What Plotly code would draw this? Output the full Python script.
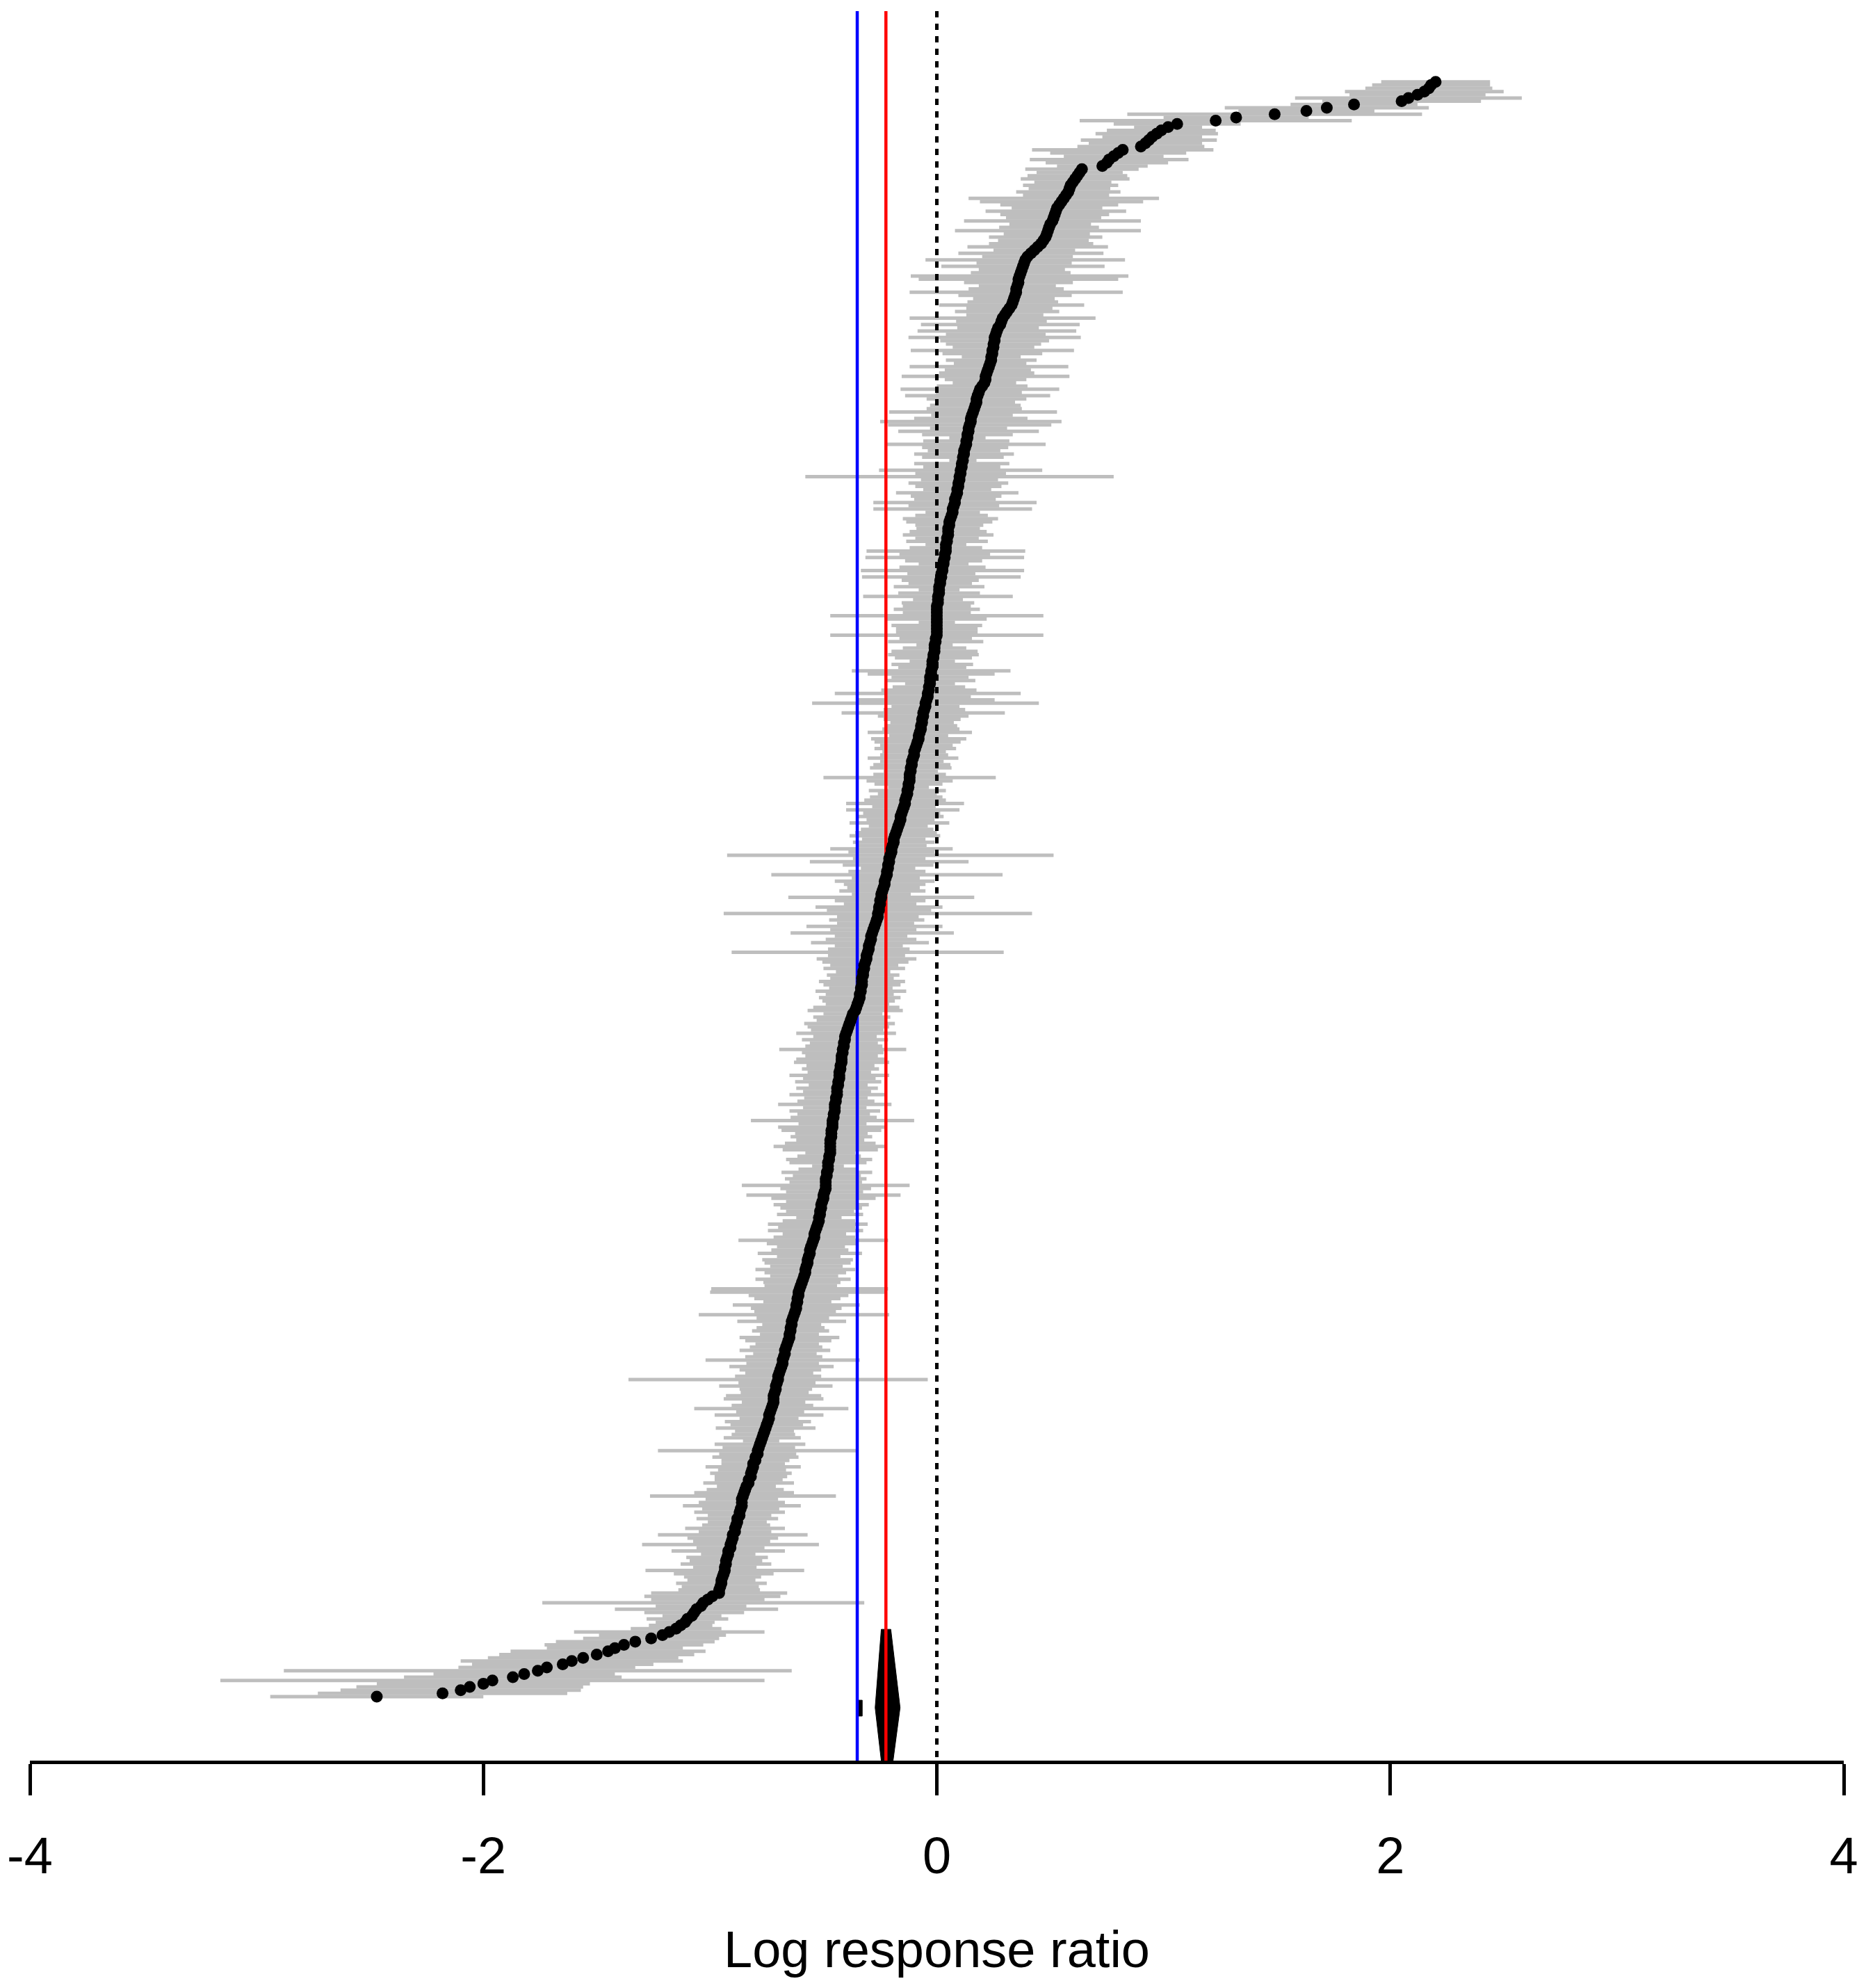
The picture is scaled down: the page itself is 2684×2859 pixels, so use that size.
import plotly.graph_objects as go

# Study estimates (log response ratio), sorted; row 1 = bottom, row 500 = top
estimates = [
    -2.47, -2.18, -2.10, -2.06, -2.00, -1.96, -1.87, -1.82, -1.76, -1.72,
    -1.65, -1.61, -1.56, -1.50, -1.45, -1.42, -1.38, -1.33, -1.26, -1.21,
    -1.18, -1.15, -1.13, -1.11, -1.10, -1.08, -1.07, -1.06, -1.04, -1.03,
    -1.01, -0.99, -0.96, -0.96, -0.955, -0.95, -0.95, -0.945, -0.94, -0.935,
    -0.935, -0.93, -0.93, -0.925, -0.92, -0.92, -0.91, -0.91, -0.905, -0.90,
    -0.90, -0.89, -0.89, -0.885, -0.88, -0.88, -0.87, -0.87, -0.865, -0.86,
    -0.86, -0.86, -0.855, -0.85, -0.845, -0.84, -0.83, -0.83, -0.82, -0.82,
    -0.815, -0.81, -0.81, -0.80, -0.80, -0.79, -0.79, -0.785, -0.78, -0.775,
    -0.77, -0.765, -0.76, -0.755, -0.75, -0.745, -0.74, -0.74, -0.735, -0.73,
    -0.725, -0.72, -0.72, -0.72, -0.715, -0.71, -0.71, -0.705, -0.70, -0.70,
    -0.695, -0.69, -0.685, -0.68, -0.68, -0.675, -0.67, -0.67, -0.665, -0.66,
    -0.655, -0.65, -0.65, -0.645, -0.645, -0.64, -0.64, -0.635, -0.63, -0.625,
    -0.62, -0.62, -0.615, -0.615, -0.61, -0.61, -0.605, -0.60, -0.595, -0.59,
    -0.585, -0.58, -0.58, -0.575, -0.57, -0.57, -0.565, -0.56, -0.56, -0.555,
    -0.55, -0.545, -0.54, -0.54, -0.535, -0.53, -0.525, -0.52, -0.52, -0.515,
    -0.515, -0.51, -0.51, -0.505, -0.50, -0.50, -0.495, -0.49, -0.49, -0.49,
    -0.49, -0.485, -0.485, -0.48, -0.48, -0.48, -0.475, -0.475, -0.47, -0.47,
    -0.47, -0.47, -0.47, -0.465, -0.465, -0.465, -0.46, -0.46, -0.46, -0.455,
    -0.455, -0.45, -0.45, -0.45, -0.445, -0.445, -0.44, -0.44, -0.44, -0.435,
    -0.435, -0.43, -0.43, -0.43, -0.425, -0.425, -0.42, -0.42, -0.42, -0.415,
    -0.415, -0.41, -0.41, -0.405, -0.405, -0.40, -0.395, -0.39, -0.385, -0.38,
    -0.375, -0.37, -0.36, -0.355, -0.35, -0.345, -0.34, -0.34, -0.335, -0.335,
    -0.33, -0.33, -0.33, -0.325, -0.325, -0.32, -0.32, -0.315, -0.31, -0.31,
    -0.305, -0.30, -0.30, -0.295, -0.29, -0.29, -0.285, -0.28, -0.275, -0.27,
    -0.265, -0.26, -0.26, -0.255, -0.255, -0.25, -0.25, -0.245, -0.245, -0.24,
    -0.235, -0.23, -0.23, -0.225, -0.22, -0.22, -0.215, -0.215, -0.21, -0.21,
    -0.205, -0.20, -0.20, -0.195, -0.19, -0.19, -0.185, -0.18, -0.175, -0.17,
    -0.165, -0.16, -0.16, -0.155, -0.15, -0.145, -0.14, -0.14, -0.135, -0.13,
    -0.13, -0.125, -0.125, -0.12, -0.12, -0.12, -0.115, -0.115, -0.11, -0.11,
    -0.105, -0.10, -0.10, -0.095, -0.09, -0.085, -0.08, -0.08, -0.075, -0.07,
    -0.07, -0.065, -0.065, -0.06, -0.06, -0.055, -0.05, -0.05, -0.045, -0.04,
    -0.04, -0.035, -0.035, -0.03, -0.03, -0.03, -0.025, -0.025, -0.02, -0.02,
    -0.02, -0.015, -0.015, -0.01, -0.01, -0.01, -0.005, -0.005, 0.00, 0.00,
    0.00, 0.00, 0.00, 0.00, 0.00, 0.00, 0.00, 0.00, 0.005, 0.005,
    0.005, 0.01, 0.01, 0.01, 0.015, 0.015, 0.02, 0.02, 0.025, 0.025,
    0.03, 0.03, 0.035, 0.035, 0.04, 0.04, 0.04, 0.045, 0.045, 0.05,
    0.05, 0.05, 0.055, 0.055, 0.06, 0.065, 0.07, 0.07, 0.075, 0.08,
    0.08, 0.085, 0.09, 0.09, 0.095, 0.095, 0.10, 0.10, 0.105, 0.105,
    0.11, 0.11, 0.115, 0.115, 0.12, 0.12, 0.125, 0.13, 0.13, 0.135,
    0.135, 0.14, 0.14, 0.145, 0.15, 0.15, 0.155, 0.16, 0.165, 0.17,
    0.175, 0.175, 0.18, 0.185, 0.19, 0.20, 0.21, 0.215, 0.215, 0.22,
    0.225, 0.23, 0.235, 0.24, 0.24, 0.245, 0.245, 0.25, 0.25, 0.255,
    0.255, 0.26, 0.265, 0.27, 0.28, 0.285, 0.29, 0.30, 0.31, 0.32,
    0.33, 0.335, 0.34, 0.345, 0.35, 0.35, 0.355, 0.36, 0.36, 0.365,
    0.37, 0.375, 0.38, 0.385, 0.39, 0.40, 0.415, 0.43, 0.445, 0.46,
    0.47, 0.48, 0.485, 0.49, 0.495, 0.50, 0.51, 0.515, 0.52, 0.525,
    0.53, 0.54, 0.55, 0.56, 0.57, 0.58, 0.585, 0.59, 0.60, 0.61,
    0.62, 0.63, 0.64, 0.73, 0.75, 0.76, 0.78, 0.80, 0.82, 0.90,
    0.92, 0.935, 0.95, 0.97, 0.99, 1.02, 1.06, 1.23, 1.32, 1.49,
    1.63, 1.72, 1.84, 2.05, 2.08, 2.12, 2.15, 2.17, 2.18, 2.20,
]

# Half-widths of the 95% confidence intervals, same order
half_widths = [
    0.47, 0.55, 0.53, 0.50, 0.47, 1.20, 0.48, 0.40, 1.12, 0.39,
    0.40, 0.49, 0.42, 0.43, 0.43, 0.30, 0.35, 0.35, 0.30, 0.28,
    0.42, 0.20, 0.14, 0.13, 0.18, 0.13, 0.22, 0.36, 0.20, 0.71,
    0.25, 0.30, 0.30, 0.18, 0.17, 0.20, 0.15, 0.17, 0.22, 0.35,
    0.14, 0.20, 0.16, 0.18, 0.12, 0.25, 0.15, 0.39, 0.17, 0.20,
    0.33, 0.16, 0.22, 0.15, 0.13, 0.18, 0.14, 0.20, 0.17, 0.26,
    0.19, 0.16, 0.41, 0.22, 0.17, 0.13, 0.20, 0.15, 0.16, 0.18,
    0.15, 0.21, 0.14, 0.15, 0.19, 0.17, 0.44, 0.16, 0.20, 0.08,
    0.17, 0.14, 0.13, 0.22, 0.16, 0.19, 0.13, 0.24, 0.15, 0.34,
    0.18, 0.14, 0.22, 0.21, 0.15, 0.16, 0.25, 0.17, 0.66, 0.19,
    0.15, 0.18, 0.23, 0.16, 0.34, 0.17, 0.14, 0.20, 0.16, 0.14,
    0.19, 0.22, 0.13, 0.17, 0.15, 0.13, 0.24, 0.16, 0.42, 0.18,
    0.20, 0.28, 0.15, 0.19, 0.22, 0.39, 0.39, 0.16, 0.17, 0.21,
    0.15, 0.18, 0.22, 0.16, 0.19, 0.20, 0.14, 0.23, 0.17, 0.15,
    0.20, 0.33, 0.18, 0.14, 0.21, 0.17, 0.22, 0.16, 0.10, 0.19,
    0.15, 0.18, 0.21, 0.16, 0.23, 0.34, 0.17, 0.20, 0.37, 0.16,
    0.18, 0.15, 0.20, 0.13, 0.07, 0.17, 0.19, 0.14, 0.11, 0.21,
    0.25, 0.20, 0.15, 0.18, 0.16, 0.22, 0.24, 0.15, 0.36, 0.19,
    0.16, 0.20, 0.14, 0.25, 0.17, 0.14, 0.21, 0.15, 0.18, 0.13,
    0.19, 0.16, 0.22, 0.14, 0.17, 0.15, 0.21, 0.20, 0.16, 0.18,
    0.28, 0.17, 0.15, 0.19, 0.14, 0.22, 0.16, 0.18, 0.20, 0.15,
    0.17, 0.13, 0.21, 0.19, 0.14, 0.16, 0.18, 0.15, 0.20, 0.14,
    0.17, 0.19, 0.14, 0.16, 0.12, 0.18, 0.15, 0.19, 0.22, 0.17,
    0.60, 0.18, 0.15, 0.26, 0.20, 0.16, 0.36, 0.19, 0.30, 0.17,
    0.21, 0.18, 0.68, 0.23, 0.28, 0.16, 0.20, 0.41, 0.13, 0.19,
    0.16, 0.18, 0.22, 0.15, 0.51, 0.17, 0.12, 0.20, 0.35, 0.16,
    0.72, 0.19, 0.27, 0.15, 0.18, 0.14, 0.20, 0.18, 0.16, 0.13,
    0.22, 0.15, 0.19, 0.17, 0.25, 0.14, 0.26, 0.18, 0.16, 0.13,
    0.17, 0.09, 0.15, 0.19, 0.38, 0.16, 0.12, 0.18, 0.17, 0.14,
    0.20, 0.15, 0.14, 0.18, 0.16, 0.19, 0.21, 0.13, 0.23, 0.17,
    0.16, 0.14, 0.17, 0.20, 0.36, 0.18, 0.15, 0.50, 0.30, 0.19,
    0.41, 0.21, 0.16, 0.11, 0.20, 0.17, 0.28, 0.35, 0.15, 0.18,
    0.10, 0.17, 0.20, 0.19, 0.14, 0.08, 0.21, 0.16, 0.47, 0.18,
    0.18, 0.20, 0.08, 0.22, 0.47, 0.15, 0.19, 0.15, 0.16, 0.11,
    0.33, 0.18, 0.09, 0.20, 0.14, 0.17, 0.35, 0.15, 0.36, 0.19,
    0.11, 0.17, 0.35, 0.20, 0.35, 0.16, 0.09, 0.18, 0.14, 0.20,
    0.17, 0.14, 0.15, 0.19, 0.21, 0.16, 0.12, 0.35, 0.20, 0.36,
    0.18, 0.20, 0.27, 0.15, 0.19, 0.22, 0.17, 0.68, 0.20, 0.36,
    0.17, 0.21, 0.06, 0.18, 0.22, 0.16, 0.19, 0.35, 0.19, 0.08,
    0.20, 0.31, 0.17, 0.36, 0.40, 0.25, 0.18, 0.37, 0.21, 0.20,
    0.17, 0.22, 0.32, 0.19, 0.35, 0.20, 0.14, 0.18, 0.37, 0.21,
    0.19, 0.35, 0.16, 0.20, 0.13, 0.22, 0.36, 0.18, 0.21, 0.24,
    0.38, 0.22, 0.35, 0.18, 0.35, 0.20, 0.41, 0.17, 0.23, 0.19,
    0.32, 0.20, 0.18, 0.25, 0.47, 0.21, 0.17, 0.24, 0.44, 0.48,
    0.22, 0.19, 0.36, 0.21, 0.44, 0.20, 0.32, 0.18, 0.31, 0.23,
    0.20, 0.25, 0.19, 0.41, 0.22, 0.18, 0.39, 0.21, 0.24, 0.31,
    0.20, 0.26, 0.36, 0.42, 0.19, 0.23, 0.18, 0.21, 0.17, 0.24,
    0.22, 0.19, 0.25, 0.20, 0.27, 0.35, 0.22, 0.30, 0.40, 0.28,
    0.25, 0.30, 0.22, 0.27, 0.24, 0.15, 0.28, 0.60, 0.32, 0.65,
    0.30, 0.45, 0.28, 0.35, 0.50, 0.30, 0.35, 0.28, 0.26, 0.24,
]

# Pooled estimates and reference
blue_estimate = -0.351
red_estimate = -0.2245
null_value = 0.0

# Summary polygon (CI of pooled estimate) and small summary mark
diamond_x = [-0.245, -0.203, -0.162, -0.193, -0.245, -0.272, -0.245]
diamond_rows = [21.8, 21.8, -2.4, -18.8, -18.8, -2.4, 21.8]
mark_x = [-0.352, -0.329, -0.329, -0.352, -0.352]
mark_rows = [-0.1, -0.1, -5.0, -5.0, -0.1]

tick_values = [-4, -2, 0, 2, 4]
tick_labels = ["-4", "-2", "0", "2", "4"]
x_range = [-4, 4]
y_range = [-18.77, 521.85]

FONT = "Liberation Sans, Arial, sans-serif"

n = min(len(estimates), len(half_widths))
rows = list(range(1, n + 1))

ci_x, ci_y = [], []
for r, e, h in zip(rows, estimates[:n], half_widths[:n]):
    ci_x += [e - h, e + h, None]
    ci_y += [r, r, None]

fig = go.Figure()

fig.add_trace(go.Scatter(x=ci_x, y=ci_y, mode="lines",
                         line=dict(color="#BEBEBE", width=5), hoverinfo="skip"))

fig.add_trace(go.Scatter(x=diamond_x, y=diamond_rows, mode="lines", fill="toself",
                         fillcolor="black", line=dict(color="black", width=1),
                         hoverinfo="skip"))
fig.add_trace(go.Scatter(x=mark_x, y=mark_rows, mode="lines", fill="toself",
                         fillcolor="black", line=dict(color="black", width=1),
                         hoverinfo="skip"))

fig.add_trace(go.Scatter(x=[blue_estimate, blue_estimate], y=y_range, mode="lines",
                         line=dict(color="#0000FF", width=4.5), hoverinfo="skip"))
fig.add_trace(go.Scatter(x=[red_estimate, red_estimate], y=y_range, mode="lines",
                         line=dict(color="#FF0000", width=4.5), hoverinfo="skip"))
fig.add_trace(go.Scatter(x=[null_value, null_value], y=[y_range[1], y_range[0]], mode="lines",
                         line=dict(color="black", width=5, dash="9px,9px"), hoverinfo="skip"))

fig.add_trace(go.Scatter(x=estimates[:n], y=rows, mode="markers",
                         marker=dict(color="black", size=17, line=dict(width=0)),
                         hoverinfo="skip"))

fig.update_layout(
    width=2684, height=2859,
    paper_bgcolor="white", plot_bgcolor="white",
    showlegend=False,
    margin=dict(l=35, r=40, t=8, b=335, autoexpand=False),
    font=dict(family=FONT, color="black"),
    xaxis=dict(
        range=x_range, tickmode="array", tickvals=tick_values, ticktext=tick_labels,
        ticks="outside", ticklen=45, tickwidth=4.5, tickcolor="black",
        showline=True, linewidth=4.5, linecolor="black",
        showgrid=False, zeroline=False, automargin=False,
        ticklabelstandoff=23,
        tickfont=dict(size=74, family=FONT, color="black"),
        title=dict(text="Log response ratio", font=dict(size=74, family=FONT, color="black"),
                   standoff=70),
        fixedrange=True,
    ),
    yaxis=dict(range=y_range, visible=False, showgrid=False, zeroline=False,
               automargin=False, fixedrange=True),
)

fig.write_html("out.html", config={"displayModeBar": False})
